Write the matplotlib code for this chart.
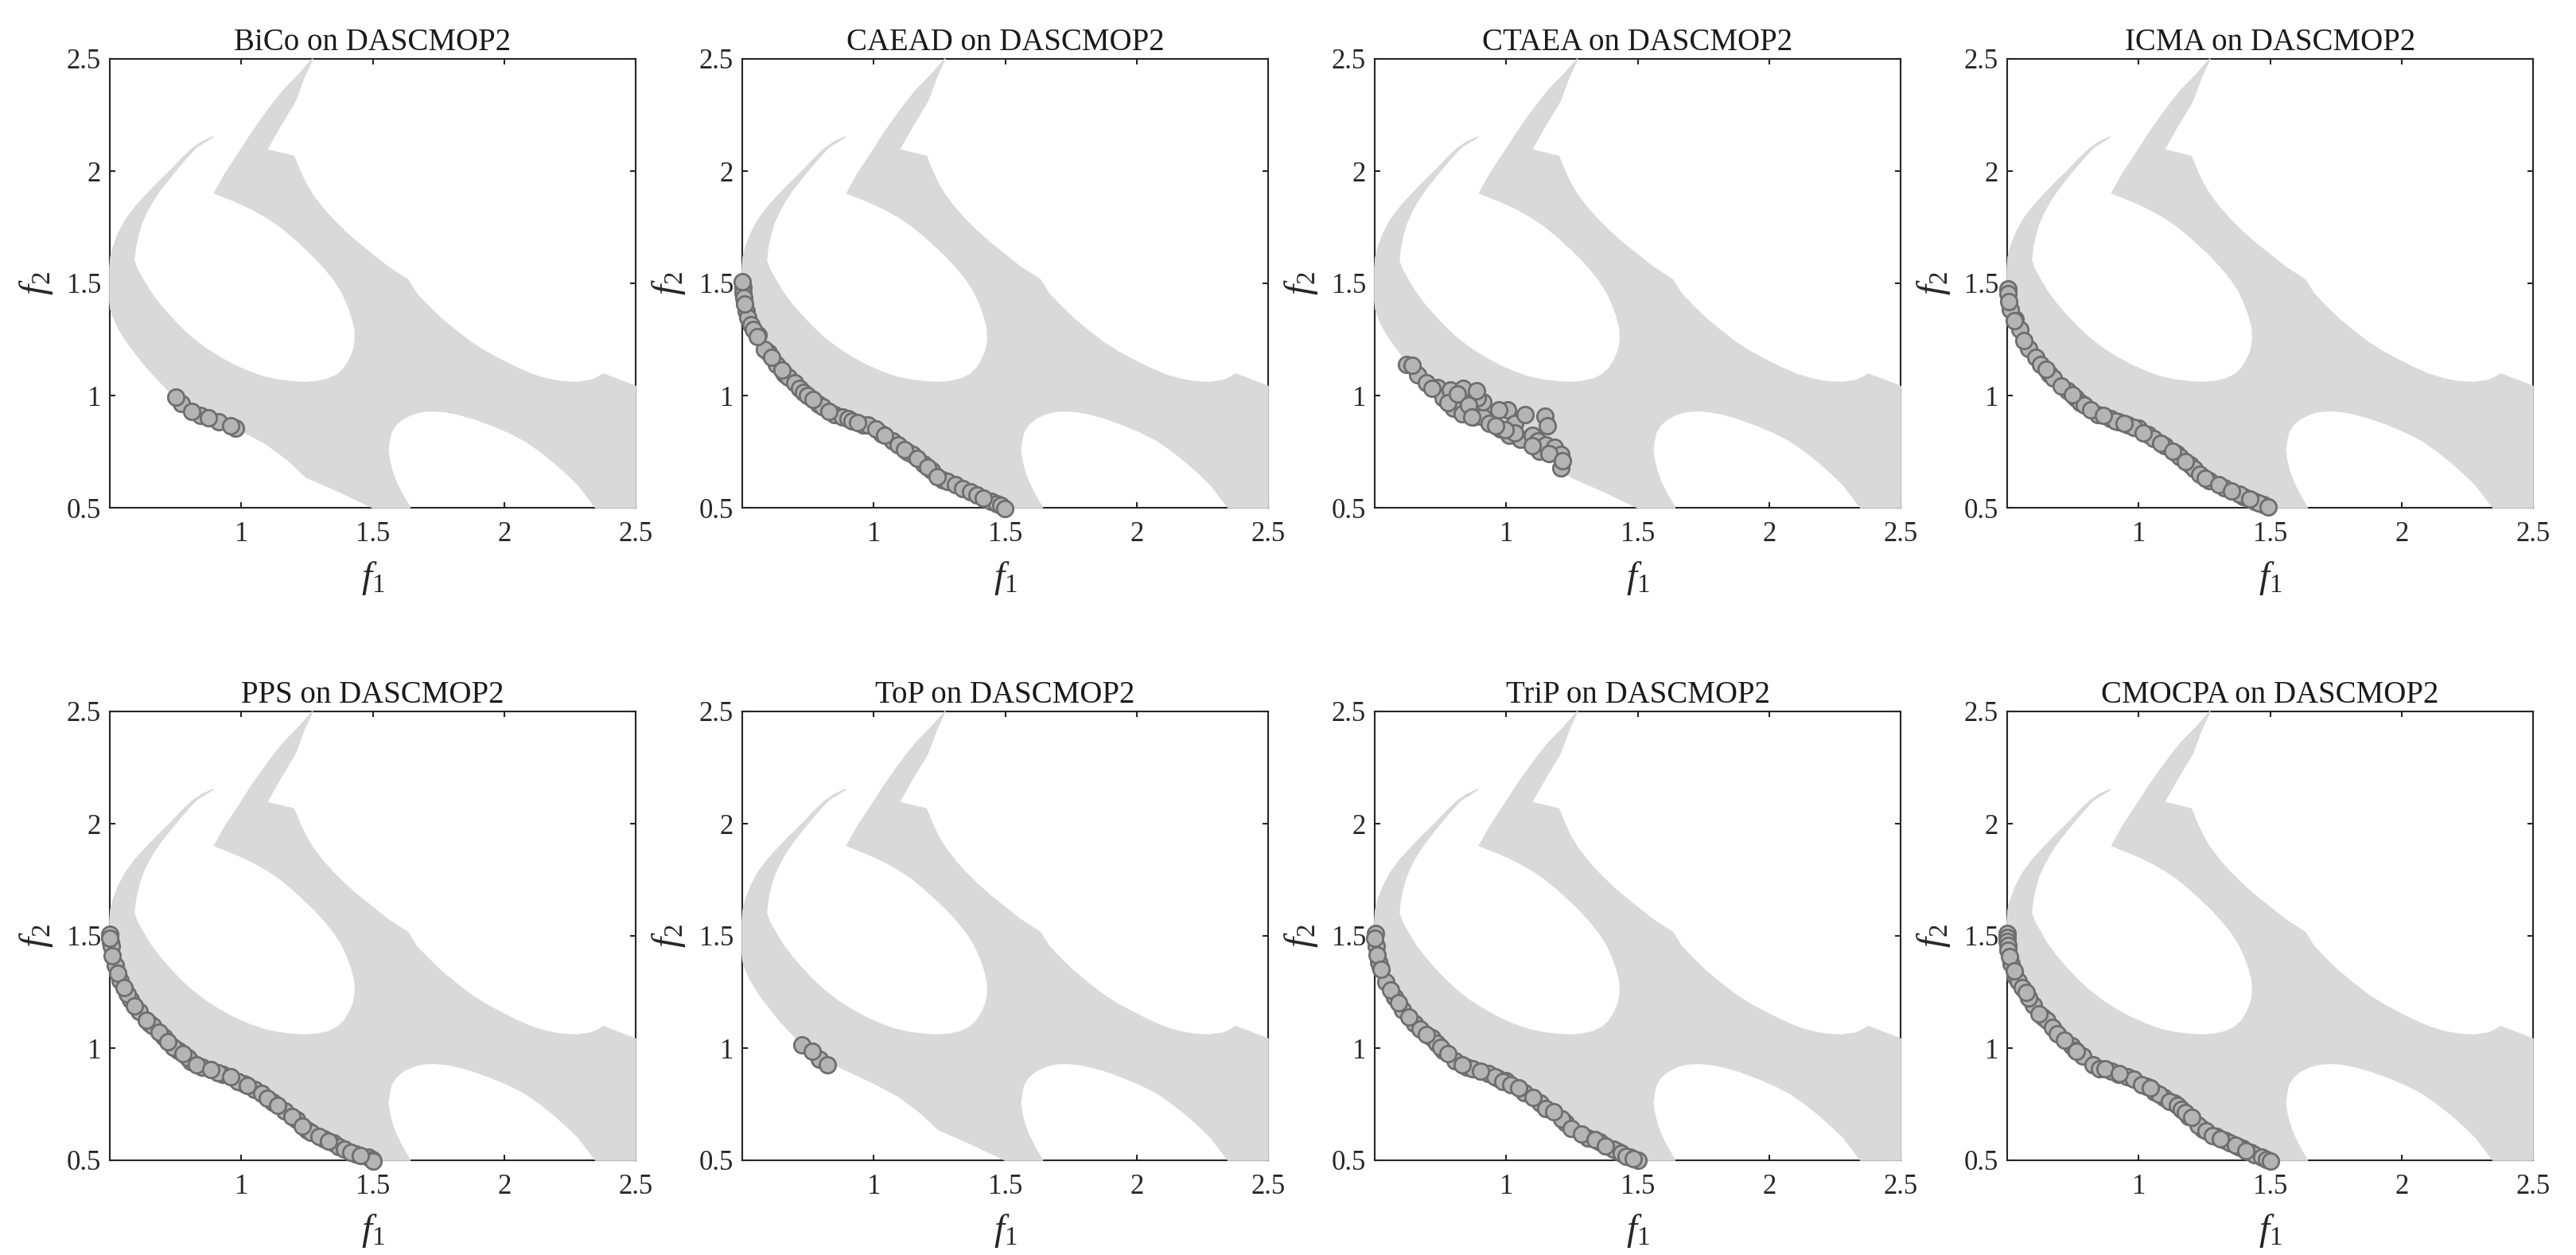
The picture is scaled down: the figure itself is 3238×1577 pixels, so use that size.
import matplotlib
matplotlib.use('Agg')
from matplotlib import pyplot as plt

plt.rcParams['font.family'] = ['Liberation Serif', 'DejaVu Serif']
plt.rcParams['mathtext.fontset'] = 'custom'
plt.rcParams['mathtext.rm'] = 'Liberation Serif'
plt.rcParams['mathtext.it'] = 'Liberation Serif:italic'

problem = 'DASCMOP2'
x_ticks = [1, 1.5, 2, 2.5]
x_tick_labels = ['1', '1.5', '2', '2.5']
y_ticks = [0.5, 1, 1.5, 2, 2.5]
y_tick_labels = ['0.5', '1', '1.5', '2', '2.5']

# feasible region outline (f1, f2)
region_outline = [
    (0.5, 1.566), (0.503, 1.615), (0.513, 1.661), (0.533, 1.722), (0.56, 1.782), (0.597, 1.84), (0.639, 1.894),
    (0.685, 1.95), (0.734, 2.006), (0.773, 2.055), (0.813, 2.1), (0.85, 2.13), (0.892, 2.152),
    (0.829, 2.106), (0.796, 2.065), (0.765, 2.023), (0.729, 1.972), (0.694, 1.92), (0.664, 1.868), (0.639, 1.816),
    (0.62, 1.765), (0.607, 1.713), (0.597, 1.657), (0.592, 1.601),
    (0.605, 1.56), (0.623, 1.523), (0.652, 1.465), (0.686, 1.411), (0.725, 1.358), (0.765, 1.308), (0.81, 1.259),
    (0.86, 1.213), (0.915, 1.172), (0.971, 1.136), (1.025, 1.108), (1.081, 1.084), (1.135, 1.07), (1.192, 1.062),
    (1.24, 1.058), (1.287, 1.062), (1.33, 1.073), (1.366, 1.093), (1.393, 1.123), (1.413, 1.162), (1.428, 1.205),
    (1.434, 1.248), (1.432, 1.3), (1.421, 1.351), (1.404, 1.407), (1.382, 1.463), (1.352, 1.517), (1.318, 1.566),
    (1.28, 1.615), (1.239, 1.661), (1.193, 1.71), (1.145, 1.756), (1.098, 1.793), (1.05, 1.825), (1.01, 1.848),
    (0.971, 1.868), (0.898, 1.902),
    (0.939, 1.988), (1.002, 2.1), (1.04, 2.17), (1.081, 2.238), (1.12, 2.3), (1.16, 2.359), (1.224, 2.436),
    (1.271, 2.5), (1.239, 2.419), (1.205, 2.312), (1.145, 2.195), (1.097, 2.095), (1.2, 2.066),
    (1.224, 1.997), (1.245, 1.945), (1.271, 1.894), (1.308, 1.837), (1.35, 1.782), (1.395, 1.73), (1.445, 1.678),
    (1.5, 1.627), (1.555, 1.575), (1.634, 1.515), (1.666, 1.454), (1.71, 1.4), (1.761, 1.342), (1.815, 1.29),
    (1.871, 1.239), (1.925, 1.198), (1.982, 1.162), (2.045, 1.125), (2.108, 1.093), (2.165, 1.073), (2.219, 1.062),
    (2.275, 1.058), (2.329, 1.067), (2.355, 1.08), (2.377, 1.096), (2.5, 1.041), (2.5, 0.5),
    (2.348, 0.5), (2.316, 0.55), (2.282, 0.602), (2.237, 0.653), (2.187, 0.705), (2.133, 0.755), (2.077, 0.8),
    (2.015, 0.837), (1.95, 0.869), (1.887, 0.896), (1.824, 0.917), (1.775, 0.928), (1.729, 0.932), (1.688, 0.929),
    (1.65, 0.917), (1.615, 0.897), (1.587, 0.869), (1.57, 0.836), (1.563, 0.8), (1.558, 0.757), (1.563, 0.714),
    (1.573, 0.666), (1.587, 0.619), (1.612, 0.56), (1.642, 0.5),
    (1.5, 0.5), (1.382, 0.567), (1.247, 0.636), (1.176, 0.714), (1.097, 0.783), (1.002, 0.843), (0.876, 0.912),
    (0.75, 0.989), (0.7, 1.05), (0.639, 1.127), (0.597, 1.19), (0.56, 1.248), (0.533, 1.3), (0.513, 1.351),
    (0.503, 1.385), (0.5, 1.42),
]

# objective values per algorithm, points on top come last
bico_f1 = [0.773, 0.844, 0.915, 0.979, 0.75, 0.813, 0.876, 0.96]
bico_f2 = [0.963, 0.912, 0.882, 0.855, 0.994, 0.929, 0.9, 0.865]

caead_f1 = [0.56, 0.6, 0.63, 0.66, 0.79, 0.85, 0.96, 1.03, 1.13, 1.19, 1.22, 1.262,
            0.502, 0.504, 0.505, 0.515, 0.522, 0.532, 0.542, 0.585, 0.677, 0.699, 0.717, 0.732, 0.747,
            0.807, 0.882, 0.902, 0.917, 0.977, 1.007, 1.072, 1.092, 1.149, 1.282, 1.312, 1.337, 1.367,
            1.392, 1.447, 1.467, 1.482, 1.497, 0.5, 0.509, 0.559, 0.612, 0.65, 0.769, 0.829, 0.94,
            1.042, 1.117, 1.167, 1.205, 1.242, 1.417]
caead_f2 = [1.27, 1.19, 1.14, 1.095, 0.96, 0.915, 0.87, 0.83, 0.75, 0.695, 0.665, 0.625,
            1.482, 1.459, 1.435, 1.376, 1.346, 1.317, 1.293, 1.207, 1.08, 1.057, 1.033, 1.015, 1.001,
            0.95, 0.903, 0.897, 0.888, 0.868, 0.85, 0.797, 0.779, 0.738, 0.617, 0.602, 0.586, 0.572,
            0.557, 0.527, 0.519, 0.509, 0.498, 1.506, 1.408, 1.261, 1.169, 1.113, 0.983, 0.93, 0.881,
            0.823, 0.758, 0.72, 0.681, 0.637, 0.543]

ctaea_f1 = [0.62, 0.663, 0.696, 0.739, 0.761, 0.788, 0.837, 0.799, 0.832, 0.875, 0.913, 0.913, 0.891,
            0.935, 0.978, 1.005, 1.033, 1.011, 1.054, 1.098, 1.12, 1.125, 1.152, 1.185, 1.207, 1.207,
            1.033, 0.995, 0.641, 0.717, 0.777, 0.815, 0.857, 0.888, 0.971, 0.959, 1.071, 1.147, 1.158,
            1.1, 1.163, 1.215, 0.87]
ctaea_f2 = [1.138, 1.091, 1.055, 1.037, 0.989, 1.025, 1.031, 0.942, 0.918, 0.906, 0.906, 0.971, 0.989,
            0.876, 0.852, 0.936, 0.876, 0.822, 0.804, 0.822, 0.798, 0.751, 0.78, 0.768, 0.739, 0.679,
            0.834, 0.846, 1.136, 1.031, 0.968, 1.007, 0.959, 1.02, 0.936, 0.866, 0.914, 0.909, 0.864,
            0.777, 0.742, 0.708, 0.906]

icma_f1 = [0.53, 0.66, 0.73, 0.76, 0.845, 0.925, 0.96, 1.0, 1.035, 1.1, 1.145, 1.195, 1.27, 1.325, 1.4, 1.44, 1.475,
           0.502, 0.504, 0.512, 0.547, 0.582, 0.609, 0.627, 0.677, 0.777, 0.792, 0.892, 0.912, 0.982,
           1.057, 1.157, 1.212, 1.232, 1.382, 1.457, 0.505, 0.527, 0.564, 0.647, 0.707, 0.747, 0.817,
           0.865, 0.945, 1.017, 1.085, 1.129, 1.179, 1.252, 1.305, 1.354, 1.422, 1.492]
icma_f2 = [1.34, 1.095, 1.02, 0.99, 0.915, 0.882, 0.87, 0.855, 0.828, 0.775, 0.74, 0.69, 0.62, 0.59, 0.55, 0.53, 0.513,
           1.476, 1.453, 1.382, 1.293, 1.21, 1.169, 1.139, 1.077, 0.968, 0.956, 0.897, 0.888, 0.859,
           0.809, 0.726, 0.673, 0.649, 0.56, 0.521, 1.42, 1.335, 1.243, 1.118, 1.043, 1.004, 0.935,
           0.911, 0.877, 0.835, 0.786, 0.752, 0.706, 0.63, 0.602, 0.576, 0.54, 0.504]

pps_f1 = [0.502, 0.52, 0.54, 0.58, 0.65, 0.705, 0.76, 0.81, 0.85, 0.93, 1.01, 1.12, 1.21, 1.25, 1.315, 1.35, 1.435,
          0.5, 0.505, 0.567, 0.612, 0.662, 0.742, 0.797, 0.912, 0.987, 1.052, 1.077, 1.099, 1.167,
          1.192, 1.267, 1.297, 1.372, 1.392, 1.417, 1.482, 1.497, 1.502, 0.5, 0.509, 0.529, 0.555,
          0.595, 0.639, 0.689, 0.722, 0.777, 0.829, 0.884, 0.959, 1.024, 1.139, 1.232, 1.332, 1.452]
pps_f2 = [1.47, 1.37, 1.3, 1.215, 1.11, 1.05, 0.99, 0.94, 0.915, 0.884, 0.84, 0.76, 0.68, 0.635, 0.597, 0.578, 0.53,
          1.506, 1.453, 1.24, 1.163, 1.098, 1.004, 0.956, 0.891, 0.85, 0.814, 0.797, 0.777, 0.72,
          0.696, 0.625, 0.608, 0.56, 0.548, 0.537, 0.513, 0.505, 0.495, 1.488, 1.411, 1.335, 1.27,
          1.189, 1.124, 1.071, 1.027, 0.976, 0.924, 0.904, 0.874, 0.832, 0.743, 0.651, 0.586, 0.522]

top_f1 = [0.793, 0.728, 0.765, 0.824]
top_f2 = [0.95, 1.015, 0.986, 0.927]

trip_f1 = [0.52, 0.65, 0.76, 0.85, 0.97, 1.0, 1.07, 1.13, 1.225, 1.31, 1.355, 1.425, 1.47,
           0.502, 0.505, 0.515, 0.542, 0.577, 0.607, 0.672, 0.717, 0.737, 0.752, 0.807, 0.872, 0.932,
           0.957, 0.987, 1.017, 1.152, 1.212, 1.407, 1.437, 1.457, 1.502, 0.5, 0.509, 0.524, 0.562,
           0.592, 0.629, 0.697, 0.779, 0.832, 0.902, 1.047, 1.102, 1.182, 1.247, 1.287, 1.337, 1.377,
           1.482]
trip_f2 = [1.36, 1.11, 0.99, 0.915, 0.865, 0.855, 0.8, 0.755, 0.665, 0.6, 0.58, 0.54, 0.515,
           1.512, 1.453, 1.382, 1.293, 1.228, 1.169, 1.086, 1.045, 1.021, 1.004, 0.944, 0.907, 0.885,
           0.874, 0.85, 0.838, 0.732, 0.684, 0.548, 0.531, 0.519, 0.501, 1.488, 1.415, 1.351, 1.259,
           1.202, 1.139, 1.059, 0.974, 0.924, 0.897, 0.824, 0.781, 0.717, 0.641, 0.617, 0.593, 0.563,
           0.506]

cmocpa_f1 = [0.53, 0.6, 0.635, 0.745, 0.76, 0.925, 1.03, 1.06, 1.095, 1.135, 1.19, 1.245, 1.295, 1.33, 1.38, 1.395, 1.425,
             0.5, 0.5, 0.5, 0.502, 0.504, 0.515, 0.542, 0.557, 0.582, 0.652, 0.672, 0.692, 0.787, 0.827,
             0.852, 0.897, 0.957, 0.982, 1.012, 1.077, 1.117, 1.147, 1.162, 1.177, 1.227, 1.257, 1.282,
             1.347, 1.367, 1.442, 1.467, 1.487, 1.502, 0.509, 0.527, 0.572, 0.622, 0.717, 0.764, 0.872,
             0.927, 1.045, 1.202, 1.312, 1.409]
cmocpa_f2 = [1.32, 1.19, 1.14, 1.01, 0.99, 0.884, 0.83, 0.805, 0.78, 0.755, 0.695, 0.64, 0.605, 0.59, 0.56, 0.553, 0.535,
             1.512, 1.494, 1.476, 1.459, 1.435, 1.376, 1.299, 1.27, 1.223, 1.125, 1.093, 1.065, 0.963,
             0.927, 0.909, 0.897, 0.874, 0.862, 0.838, 0.794, 0.762, 0.744, 0.726, 0.714, 0.655, 0.631,
             0.611, 0.578, 0.566, 0.525, 0.513, 0.505, 0.497, 1.408, 1.343, 1.249, 1.154, 1.036, 0.986,
             0.907, 0.885, 0.824, 0.69, 0.595, 0.544]

algorithms = ['BiCo', 'CAEAD', 'CTAEA', 'ICMA', 'PPS', 'ToP', 'TriP', 'CMOCPA']
f1_values = [bico_f1, caead_f1, ctaea_f1, icma_f1, pps_f1, top_f1, trip_f1, cmocpa_f1]
f2_values = [bico_f2, caead_f2, ctaea_f2, icma_f2, pps_f2, top_f2, trip_f2, cmocpa_f2]

W, H = 3238, 1577
lefts = [138, 933, 1728, 2523]
tops = [74, 894]
ax_w, ax_h = 661, 564
dark = '#262626'

fig = plt.figure(figsize=(W / 100, H / 100), dpi=100)
region_f1, region_f2 = zip(*region_outline)

for i, name in enumerate(algorithms):
    left = lefts[i % 4]
    top = tops[i // 4]
    ax = fig.add_axes([left / W, 1 - (top + ax_h) / H, ax_w / W, ax_h / H])
    ax.set_axisbelow(True)
    ax.fill(region_f1, region_f2, facecolor='#d9d9d9', edgecolor='#d9d9d9', lw=1.2,
            joinstyle='round', zorder=3, clip_on=False)
    ax.scatter(f1_values[i], f2_values[i], s=215, facecolor='#b4b4b4', edgecolor='#6e6e6e',
               linewidths=2.0, zorder=4, clip_on=False)
    ax.set_xlim(0.5, 2.5)
    ax.set_ylim(0.5, 2.5)
    ax.set_xticks(x_ticks)
    ax.set_xticklabels(x_tick_labels)
    ax.set_yticks(y_ticks)
    ax.set_yticklabels(y_tick_labels)
    ax.tick_params(direction='in', top=True, right=True, length=5, width=1.5, color=dark,
                   labelcolor=dark, labelsize=25)
    ax.tick_params(axis='x', pad=12)
    ax.tick_params(axis='y', pad=8)
    for spine in ax.spines.values():
        spine.set_linewidth(1.5)
        spine.set_color(dark)
    ax.set_title(name + ' on ' + problem, fontsize=28, color='#1a1a1a', pad=8)
    ax.set_xlabel('$f_1$', fontsize=34, color=dark)
    ax.set_ylabel('$f_2$', fontsize=34, color=dark)
    ax.xaxis.set_label_coords(0.5, -0.115)
    ax.yaxis.set_label_coords(-0.105, 0.5)

plt.savefig('out.png', dpi=100)
